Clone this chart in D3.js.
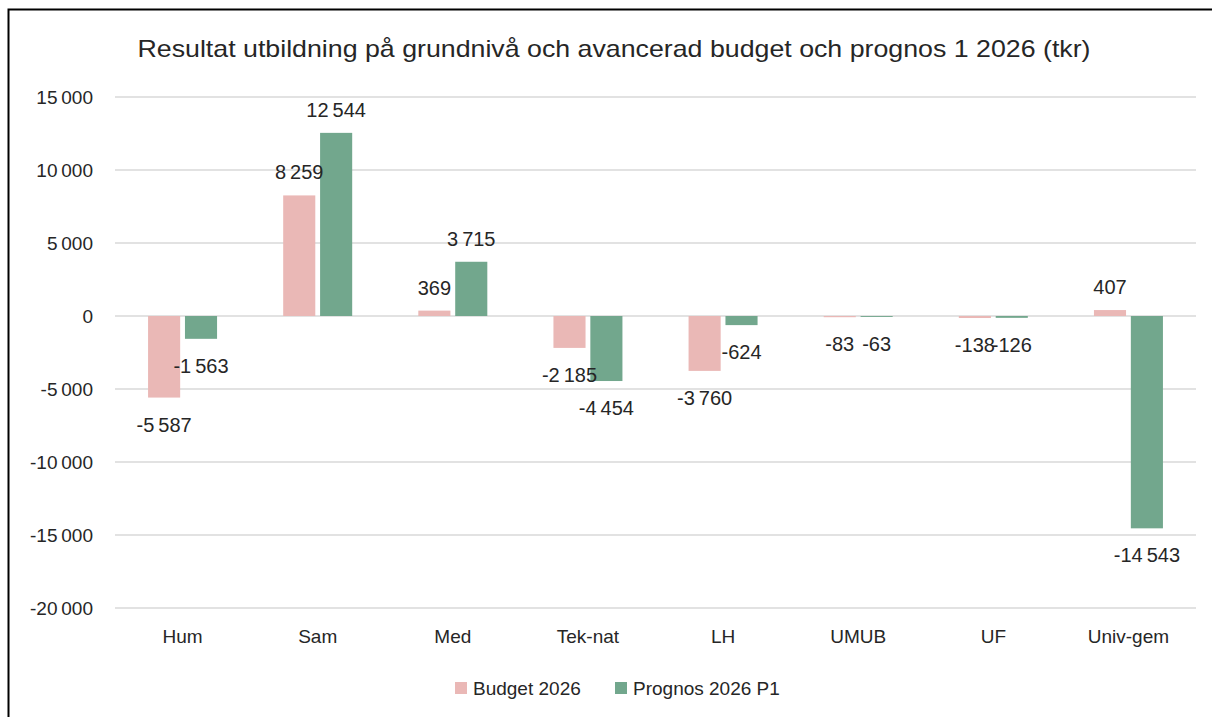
<!DOCTYPE html>
<html>
<head>
<meta charset="utf-8">
<script src="https://cdn.jsdelivr.net/npm/d3@7"></script>
<style>
  body { margin: 0; background: #fff; }
  text { font-family: "Liberation Sans", Arial, sans-serif; fill: #262626; }
</style>
</head>
<body>
<div id="chart"></div>
<script>
// data
var categories = ["Hum", "Sam", "Med", "Tek-nat", "LH", "UMUB", "UF", "Univ-gem"];
var budget2026 = [-5587, 8259, 369, -2185, -3760, -83, -138, 407];
var prognos2026 = [-1563, 12544, 3715, -4454, -624, -63, -126, -14543];
var seriesNames = ["Budget 2026", "Prognos 2026 P1"];
var yTicks = [-20000, -15000, -10000, -5000, 0, 5000, 10000, 15000];

var W = 1212, H = 717;
var colors = ["#EAB8B6", "#72A78D"];

var svg = d3.select("#chart").append("svg")
    .attr("width", W)
    .attr("height", H);

// outer frame (only left and top edge visible in the shot)
svg.append("rect")
    .attr("x", 8.5).attr("y", 9.5)
    .attr("width", W + 20).attr("height", H + 20)
    .attr("fill", "none")
    .attr("stroke", "#000")
    .attr("stroke-width", 2);

var fmt = d3.formatLocale({ decimal: ",", thousands: "\u202f", grouping: [3], currency: ["", ""], minus: "-" }).format(",d");

var x = d3.scaleBand()
    .domain(categories)
    .range([115, 1196]);

var xSub = d3.scaleBand()
    .domain(seriesNames)
    .range([x.bandwidth() / 2 - 34.5, x.bandwidth() / 2 + 34.5])
    .paddingInner(0.13);

var y = d3.scaleLinear()
    .domain([-20000, 15000])
    .range([608, 97]);

// gridlines
svg.append("g")
    .selectAll("line")
    .data(yTicks)
    .enter().append("line")
    .attr("x1", 115).attr("x2", 1196)
    .attr("y1", d => y(d)).attr("y2", d => y(d))
    .attr("stroke", "#d9d9d9")
    .attr("stroke-width", 1.5);

// y axis labels
var yAxis = svg.append("g")
    .attr("transform", "translate(93,0)")
    .call(d3.axisLeft(y).tickValues(yTicks).tickFormat(fmt).tickSize(0).tickPadding(0));
yAxis.select(".domain").remove();
yAxis.selectAll("text")
    .style("font-size", "19px")
    .style("font-family", "Liberation Sans, Arial, sans-serif")
    .attr("fill", "#262626");

// x axis labels
var xAxis = svg.append("g")
    .attr("transform", "translate(0,629)")
    .call(d3.axisBottom(x).tickSize(0).tickPadding(0));
xAxis.select(".domain").remove();
xAxis.selectAll("text")
    .style("font-size", "19px")
    .style("font-family", "Liberation Sans, Arial, sans-serif")
    .attr("fill", "#262626");

// rows of bars
var rows = categories.map(function (c, i) {
    return [
        { cat: c, key: seriesNames[0], value: budget2026[i], idx: 0 },
        { cat: c, key: seriesNames[1], value: prognos2026[i], idx: 1 }
    ];
});

var groups = svg.append("g")
    .selectAll("g")
    .data(rows)
    .enter().append("g")
    .attr("transform", d => "translate(" + x(d[0].cat) + ",0)");

groups.selectAll("rect")
    .data(d => d)
    .enter().append("rect")
    .attr("x", d => xSub(d.key))
    .attr("width", xSub.bandwidth())
    .attr("y", d => Math.min(y(d.value), y(0)))
    .attr("height", d => Math.abs(y(d.value) - y(0)))
    .attr("fill", d => colors[d.idx]);

// data labels, outside end
groups.selectAll("text")
    .data(d => d)
    .enter().append("text")
    .attr("x", d => xSub(d.key) + xSub.bandwidth() / 2)
    .attr("y", d => d.value >= 0 ? y(d.value) - 23 : y(d.value) + 27)
    .attr("dy", "0.35em")
    .attr("text-anchor", "middle")
    .style("font-size", "20px")
    .text(d => fmt(d.value));

// title
svg.append("text")
    .attr("x", 614)
    .attr("y", 57)
    .attr("text-anchor", "middle")
    .style("font-family", "'Liberation Sans Narrow', 'Liberation Sans', sans-serif")
    .style("font-size", "24px")
    .attr("textLength", 953)
    .attr("lengthAdjust", "spacingAndGlyphs")
    .text("Resultat utbildning på grundnivå och avancerad budget och prognos 1 2026 (tkr)");

// legend
var legendX = [455, 615];
var legend = svg.append("g");
legend.selectAll("rect")
    .data(seriesNames)
    .enter().append("rect")
    .attr("x", (d, i) => legendX[i])
    .attr("y", 682)
    .attr("width", 12).attr("height", 12)
    .attr("fill", (d, i) => colors[i]);
legend.selectAll("text")
    .data(seriesNames)
    .enter().append("text")
    .attr("x", (d, i) => legendX[i] + 18)
    .attr("y", 688)
    .attr("dy", "0.35em")
    .style("font-size", "19px")
    .text(d => d);
</script>
</body>
</html>
